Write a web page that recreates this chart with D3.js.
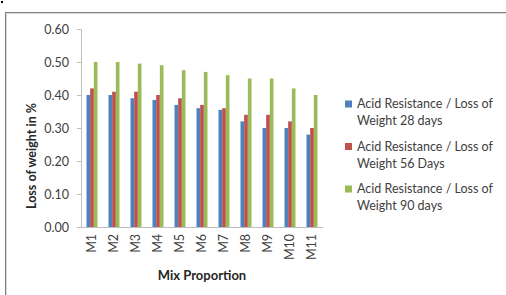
<!DOCTYPE html>
<html>
<head>
<meta charset="utf-8">
<script src="https://cdn.jsdelivr.net/npm/d3@7"></script>
<style>
  body { margin: 0; background: #fff; }
  text { font-family: Lato, "Open Sans", sans-serif; }
</style>
</head>
<body>
<div id="chart"></div>
<script>
const mixes = ['M1', 'M2', 'M3', 'M4', 'M5', 'M6', 'M7', 'M8', 'M9', 'M10', 'M11'];
const seriesNames = [
  ['Acid Resistance / Loss of', 'Weight 28 days'],
  ['Acid Resistance / Loss of', 'Weight 56 Days'],
  ['Acid Resistance / Loss of', 'Weight 90 days']
];
const days28 = [0.40, 0.40, 0.39, 0.385, 0.37, 0.36, 0.355, 0.32, 0.30, 0.30, 0.28];
const days56 = [0.42, 0.41, 0.41, 0.40, 0.39, 0.37, 0.36, 0.34, 0.34, 0.32, 0.30];
const days90 = [0.50, 0.50, 0.495, 0.49, 0.475, 0.47, 0.46, 0.45, 0.45, 0.42, 0.40];
const yTicks = [0, 0.1, 0.2, 0.3, 0.4, 0.5, 0.6];
const colors = ['#4F81BD', '#C0504D', '#9BBB59'];

const series = [days28, days56, days90];

const width = 506, height = 295;
const plotLeft = 81, plotRight = 323, plotTop = 29, plotBottom = 227;

const svg = d3.select('#chart').append('svg')
  .attr('width', width)
  .attr('height', height);

// chart frame
svg.append('rect')
  .attr('x', 5.5).attr('y', 12.5)
  .attr('width', 510).attr('height', 300)
  .attr('fill', 'none')
  .attr('stroke', '#7f7f7f')
  .attr('stroke-width', 1);
svg.append('path')
  .attr('d', 'M6.5,300V13.5H510')
  .attr('fill', 'none')
  .attr('stroke', '#d9d9d9');
svg.append('rect').attr('x', 1).attr('y', 1).attr('width', 2).attr('height', 2).attr('fill', '#000');

const x = d3.scaleBand().domain(mixes).range([plotLeft, plotRight]).paddingInner(0.5).paddingOuter(0.25);
const xs = d3.scaleBand().domain([0, 1, 2]).range([0, x.bandwidth()]);
const y = d3.scaleLinear().domain([0, 0.6]).range([plotBottom, plotTop]);

// y axis
const yAxis = svg.append('g')
  .attr('transform', `translate(${plotLeft},0)`)
  .call(d3.axisLeft(y).tickValues(yTicks).tickFormat(d3.format('.2f')).tickSize(4).tickPadding(8));
yAxis.select('.domain').attr('stroke', '#bfbfbf').attr('d', `M-4,${plotTop + 0.5}H0.5V${plotBottom}`);
yAxis.selectAll('.tick line').attr('stroke', '#bfbfbf');
yAxis.selectAll('.tick text').attr('font-size', 12.5).attr('fill', '#404040');

// bars
const groups = svg.append('g').selectAll('g')
  .data(mixes)
  .join('g')
  .attr('transform', d => `translate(${x(d)},0)`);
groups.selectAll('rect')
  .data((d, i) => series.map((s, k) => ({ k, v: s[i] })))
  .join('rect')
  .attr('x', d => xs(d.k))
  .attr('width', xs.bandwidth())
  .attr('y', d => y(d.v))
  .attr('height', d => plotBottom - y(d.v))
  .attr('fill', d => colors[d.k]);

// x axis
const xAxis = svg.append('g')
  .attr('transform', `translate(0,${plotBottom})`)
  .call(d3.axisBottom(x).tickSize(0).tickPadding(0));
xAxis.select('.domain').attr('stroke', '#bfbfbf').attr('d', `M${plotLeft},0.5H${plotRight}`);
xAxis.selectAll('.tick text')
  .attr('font-size', 12.5)
  .attr('fill', '#404040')
  .attr('transform', 'rotate(-90)')
  .attr('text-anchor', 'end')
  .attr('dy', '0.35em')
  .attr('x', -7)
  .attr('y', 0);

// axis titles
svg.append('text')
  .attr('transform', 'translate(36,156) rotate(-90)')
  .attr('text-anchor', 'middle')
  .attr('font-size', 12.5)
  .attr('font-weight', 'bold')
  .attr('fill', '#262626')
  .text('Loss of weight  in %');
svg.append('text')
  .attr('x', 202).attr('y', 280)
  .attr('text-anchor', 'middle')
  .attr('font-size', 13)
  .attr('font-weight', 'bold')
  .attr('fill', '#262626')
  .text('Mix Proportion');

// legend
const legend = svg.append('g').attr('transform', 'translate(345,0)');
seriesNames.forEach((lines, i) => {
  const yc = 104 + i * 42.5;
  legend.append('rect')
    .attr('x', 0).attr('y', yc - 3.5)
    .attr('width', 7).attr('height', 7)
    .attr('fill', colors[i]);
  lines.forEach((t, j) => {
    legend.append('text')
      .attr('x', 12).attr('y', yc + j * 17)
      .attr('dy', '0.35em')
      .attr('font-size', 12.5)
      .attr('fill', '#404040')
      .text(t);
  });
});
</script>
</body>
</html>
